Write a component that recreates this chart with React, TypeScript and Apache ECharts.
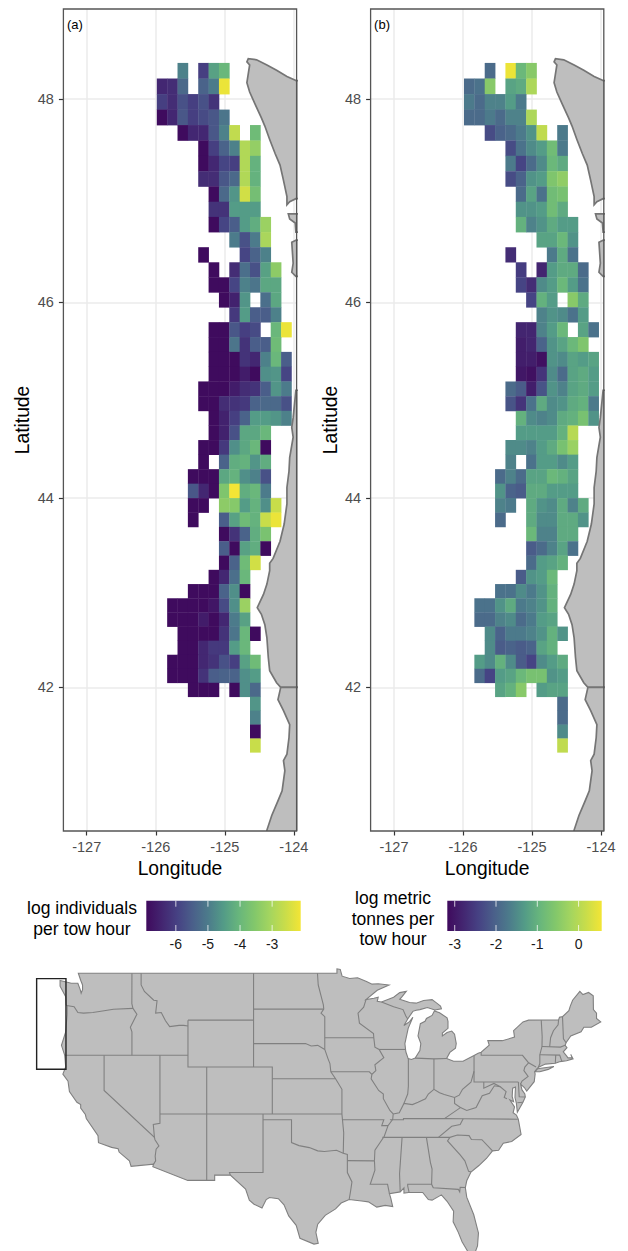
import React, { useEffect, useRef } from "react";
import * as echarts from "echarts";

const _ = null;
const viridis = ["#3f0a5d","#432570","#464183","#4a5f8a","#4c7b8b","#539b87","#68b67c","#82c76b","#a4d55f","#c9dd4a","#f3e535"];

const lonTicks = [-127, -126, -125, -124];
const latTicks = [42, 44, 46, 48];
const cellDeg = 0.15;
const firstCellLon = -125.985;
const firstCellLat = 48.35;

const valuesA: (number | null)[][] = [
[_,_,-4.9,_,-6.0,-4.4,-4.0],
[-6.4,-6.3,-5.3,_,-5.4,-5.0,-2.2],
[-6.0,-6.3,-5.7,-6.0,-5.7,-6.2],
[-6.9,-6.4,-5.6,-6.0,-5.8,-5.6,-5.1],
[_,_,-6.9,-6.4,-6.4,-5.6,-4.9,-2.7,_,-3.9],
[_,_,_,_,-6.9,-6.0,-5.4,-4.9,-2.9,-3.3],
[_,_,_,_,-6.9,-6.4,-5.9,-6.0,-2.9,-4.1],
[_,_,_,_,-6.3,-6.3,-5.6,-5.3,-2.9,-4.1],
[_,_,_,_,_,-6.9,-5.3,-4.6,-2.5,-3.8],
[_,_,_,_,_,-6.2,-6.2,-4.5,-4.5,-4.5],
[_,_,_,_,_,-6.9,-5.9,-5.5,-4.5,-4.2,-3.2],
[_,_,_,_,_,_,_,-5.0,-5.7,-5.0,-3.0],
[_,_,_,_,-6.9,_,_,_,-5.9,-5.4,-4.9],
[_,_,_,_,_,-6.9,_,-6.3,-5.2,-5.7,-4.4,-3.4],
[_,_,_,_,_,-6.9,-6.9,-5.9,-4.9,-5.1,-4.3,-4.3],
[_,_,_,_,_,_,-6.9,-6.5,-4.6,_,-5.2,-4.3],
[_,_,_,_,_,_,_,-6.1,-4.5,-5.5,-5.5,-4.9],
[_,_,_,_,_,-6.9,-6.9,-5.6,-6.0,-5.8,_,-4.0,-2.2],
[_,_,_,_,_,-6.9,-6.9,-5.1,-6.2,-5.5,-5.5,-3.9],
[_,_,_,_,_,-6.9,-6.9,-6.9,-6.2,-6.4,-4.9,-4.0,-5.5],
[_,_,_,_,_,-6.9,-6.9,-6.9,-6.6,-6.9,-4.7,-4.6,-5.9],
[_,_,_,_,-6.9,-6.9,-6.9,-6.6,-6.3,-6.2,-5.5,-4.6,-5.0],
[_,_,_,_,-6.9,-6.9,-6.3,-6.2,-6.1,-5.4,-5.3,-5.3,-5.7],
[_,_,_,_,_,-6.9,-6.5,-6.0,-5.4,-4.5,-4.5,-4.6,-4.9],
[_,_,_,_,_,-6.9,-6.5,-5.7,-4.3,-4.3,-4.0],
[_,_,_,_,-6.9,-6.9,-6.1,-4.7,-4.3,-4.0,-6.9],
[_,_,_,_,-6.9,_,-5.4,-4.2,-4.1,-4.6,-4.2],
[_,_,_,-6.9,-6.9,-6.9,-4.3,-4.1,-4.7,-4.9,-5.7],
[_,_,_,-5.6,-6.4,-6.9,-3.6,-2.1,-4.2,-4.0,-5.0],
[_,_,_,-6.9,-6.9,_,-3.4,-3.5,-4.5,-4.1,-4.7,-2.6],
[_,_,_,-6.9,_,_,-5.5,-4.4,-3.9,-4.1,-2.6,-2.2],
[_,_,_,_,_,_,-6.9,-6.2,-5.4,-4.2,-3.7],
[_,_,_,_,_,_,-5.5,-6.9,-4.4,-4.2,-6.9],
[_,_,_,_,_,_,-6.9,-5.4,-3.9,-2.5],
[_,_,_,_,_,-6.9,-6.4,-5.2,-4.0],
[_,_,_,-6.9,-6.9,-6.9,-5.4,-4.7,-6.9],
[_,-6.9,-6.9,-6.9,-6.9,-6.7,-5.8,-4.7,-3.2],
[_,-6.9,-6.9,-6.9,-6.6,-6.9,-6.4,-5.0,-4.4],
[_,_,-6.9,-6.9,-6.9,-6.9,-6.2,-5.1,-4.0,-6.9],
[_,_,-6.9,-6.9,-6.4,-6.1,-6.1,-4.5,-4.0],
[_,-6.9,-6.9,-6.9,-6.4,-6.2,-5.7,-6.0,-4.4,-3.9],
[_,-6.9,-6.9,-6.9,-6.2,-5.5,-5.4,-5.4,-4.7,-4.5],
[_,_,_,-6.9,-6.9,-6.9,_,-6.9,-4.7,-5.3],
[_,_,_,_,_,_,_,_,_,-4.6],
[_,_,_,_,_,_,_,_,_,-4.9],
[_,_,_,_,_,_,_,_,_,-6.9],
[_,_,_,_,_,_,_,_,_,-2.6],
];

const valuesB: (number | null)[][] = [
[_,_,-1.9,_,0.5,-0.9,-0.5],
[-1.9,-1.8,-0.5,_,-1.2,-1.1,-0.1],
[-1.7,-1.9,-1.6,-1.6,-1.3,-1.7],
[-1.9,-1.9,-1.7,-1.9,-1.6,-1.6,-0.1],
[_,_,-2.3,-2.0,-1.9,-1.7,-1.4,0.1,_,-1.7],
[_,_,_,_,-2.3,-1.8,-1.5,-1.3,-0.8,-1.7],
[_,_,_,_,-1.7,-2.4,-1.9,-1.5,-0.9,-1.1],
[_,_,_,_,-2.3,-2.0,-1.4,-1.3,-0.6,-0.4],
[_,_,_,_,_,-1.9,-1.2,-1.8,-0.8,-0.7],
[_,_,_,_,_,-1.4,-1.4,-1.3,-0.8,-1.1],
[_,_,_,_,_,-1.0,-1.6,-1.4,-1.1,-1.3,-1.3],
[_,_,_,_,_,_,_,-1.2,-1.2,-0.9,-1.4],
[_,_,_,_,-2.7,_,_,_,-1.7,-1.1,-1.8],
[_,_,_,_,_,-2.5,_,-2.8,-1.3,-1.1,-1.1,-1.9],
[_,_,_,_,_,-2.4,-2.7,-1.5,-1.3,-0.9,-1.3,-1.8],
[_,_,_,_,_,_,-2.4,-1.0,-1.3,_,-0.5,-1.1],
[_,_,_,_,_,_,_,-1.6,-1.4,-1.5,-1.8,-1.3],
[_,_,_,_,_,-2.8,-2.8,-1.6,-1.3,-0.9,_,-1.2,-1.8],
[_,_,_,_,_,-2.9,-2.8,-2.0,-1.4,-1.2,-0.9,-0.6],
[_,_,_,_,_,-2.9,-2.9,-3.1,-1.4,-1.5,-1.2,-1.3,-1.2],
[_,_,_,_,_,-3.0,-3.1,-2.6,-1.5,-1.9,-1.2,-1.1,-1.3],
[_,_,_,_,-1.9,-2.1,-2.9,-2.2,-1.4,-1.6,-1.2,-1.1,-1.3],
[_,_,_,_,-2.2,-2.6,-1.8,-1.1,-1.5,-1.4,-1.1,-1.0,-1.7],
[_,_,_,_,_,-1.0,-1.5,-1.6,-1.5,-1.1,-1.0,-0.7,-1.4],
[_,_,_,_,_,-1.3,-1.3,-1.3,-1.3,-1.0,0.0],
[_,_,_,_,-1.5,-1.5,-1.6,-1.3,-1.1,-0.7,-0.3],
[_,_,_,_,-1.6,_,-1.8,-1.3,-1.3,-1.5,-1.3],
[_,_,_,-1.9,-1.6,-1.9,-1.2,-1.2,-0.9,-1.0,-1.2],
[_,_,_,-1.4,-2.0,-2.1,-1.1,-1.1,-1.3,-1.3,-1.3],
[_,_,_,-1.6,-1.7,_,-1.1,-1.4,-1.5,-1.1,-1.6,-1.1],
[_,_,_,-1.9,_,_,-1.1,-1.5,-1.5,-1.1,-1.1,-1.4],
[_,_,_,_,_,_,-0.9,-1.6,-1.6,-1.1,-1.1],
[_,_,_,_,_,_,-2.1,-1.9,-1.6,-1.2,-1.8],
[_,_,_,_,_,_,-1.9,-1.3,-1.2,-1.0],
[_,_,_,_,_,-2.1,-1.4,-1.3,-0.9],
[_,_,_,-1.8,-1.8,-1.5,-1.7,-1.4,-1.0],
[_,-1.8,-1.8,-1.4,-1.1,-1.7,-1.6,-1.4,-1.0],
[_,-1.9,-1.9,-1.6,-1.5,-1.9,-1.7,-1.3,-1.2],
[_,_,-1.5,-2.0,-1.7,-1.7,-1.6,-1.4,-1.0,-1.4],
[_,_,-1.5,-2.1,-2.0,-2.1,-2.0,-1.2,-1.0],
[_,-1.3,-1.5,-1.0,-1.5,-2.1,-2.4,-1.5,-1.3,-1.1],
[_,-1.9,-2.4,-1.3,-1.2,-0.9,-0.7,-0.7,-1.4,-1.3],
[_,_,_,-1.2,-1.0,-0.5,_,-1.3,-1.2,-1.2],
[_,_,_,_,_,_,_,_,_,-1.9],
[_,_,_,_,_,_,_,_,_,-1.9],
[_,_,_,_,_,_,_,_,_,-1.5],
[_,_,_,_,_,_,_,_,_,0.1],
];

const scaleA = { min: -6.92, max: -2.11, ticks: [-6, -5, -4, -3] };
const scaleB = { min: -3.18, max: 0.56, ticks: [-3, -2, -1, 0] };

const coastWa1 = [[-123.97,48.18],[-124.10,48.22],[-124.25,48.28],[-124.39,48.33],[-124.54,48.38],[-124.66,48.39],[-124.68,48.36],[-124.64,48.33],[-124.68,48.16],[-124.64,48.07],[-124.56,47.95],[-124.47,47.82],[-124.42,47.74],[-124.35,47.61],[-124.27,47.47],[-124.20,47.36],[-124.15,47.21],[-124.10,47.05],[-124.10,46.97],[-124.06,47.00],[-123.97,47.03],[-123.5,47.03],[-123.5,48.18]];
const coastWa2 = [[-123.97,46.88],[-124.08,46.88],[-124.06,46.83],[-123.98,46.79],[-123.97,46.70],[-123.5,46.70],[-123.5,46.88]];
const coastWa3 = [[-123.97,46.62],[-124.03,46.60],[-124.01,46.39],[-124.03,46.30],[-123.97,46.26],[-123.5,46.26],[-123.5,46.62]];
const coastOr = [[-123.97,45.11],[-124.01,44.83],[-124.03,44.73],[-124.01,44.63],[-124.06,44.42],[-124.07,44.28],[-124.10,44.11],[-124.10,43.94],[-124.14,43.73],[-124.20,43.55],[-124.30,43.37],[-124.35,43.32],[-124.35,43.24],[-124.39,43.10],[-124.44,42.99],[-124.53,42.85],[-124.47,42.78],[-124.42,42.67],[-124.39,42.53],[-124.37,42.32],[-124.35,42.18],[-124.25,42.05],[-124.19,42],[-123.5,42],[-123.5,45.11]];
const coastCa = [[-124.19,42],[-124.23,41.87],[-124.15,41.75],[-124.06,41.60],[-124.07,41.46],[-124.10,41.28],[-124.15,41.21],[-124.13,41.10],[-124.17,40.88],[-124.23,40.77],[-124.32,40.61],[-124.39,40.45],[-124.41,40.3],[-123.5,40.3],[-123.5,42]];
const coasts = [coastWa1, coastWa2, coastWa3, coastOr, coastCa];

const usOutline = [[-124.7,48.38],[-123.5,48.15],[-122.8,48.15],[-122.55,47.6],[-122.45,47.3],[-122.3,47.6],[-122.3,48.0],[-122.5,48.4],[-122.75,49],[-95.15,49],[-95.15,49.38],[-94.8,49.33],[-94.6,48.75],[-93.8,48.55],[-92.95,48.62],[-92.0,48.3],[-91.4,48.07],[-90.75,48.1],[-89.6,48.0],[-90.85,47.55],[-92.05,46.75],[-91.2,46.87],[-90.75,46.95],[-90.85,46.6],[-90.4,46.55],[-89.1,46.95],[-88.45,47.35],[-87.75,47.45],[-88.2,47.0],[-88.45,46.78],[-87.4,46.5],[-86.7,46.45],[-85.9,46.68],[-85.0,46.75],[-84.5,46.45],[-84.1,46.2],[-84.0,45.97],[-84.7,45.87],[-85.5,46.08],[-86.3,45.9],[-86.7,45.85],[-87.05,45.75],[-87.6,45.1],[-88.0,44.55],[-87.4,44.87],[-87.05,45.25],[-87.55,44.3],[-87.9,43.0],[-87.8,42.3],[-87.55,41.72],[-87.2,41.65],[-86.8,41.77],[-86.3,42.4],[-86.2,43.0],[-86.5,43.65],[-86.25,44.7],[-85.75,44.9],[-85.6,45.15],[-85.0,45.4],[-84.75,45.78],[-84.2,45.63],[-83.4,45.2],[-83.3,44.9],[-83.3,44.3],[-83.9,43.9],[-83.9,43.65],[-83.4,43.95],[-82.9,44.07],[-82.6,43.8],[-82.42,43.0],[-82.5,42.6],[-83.1,42.25],[-83.45,41.73],[-82.7,41.5],[-81.7,41.5],[-80.52,41.98],[-80.08,42.17],[-79.76,42.27],[-78.9,42.87],[-79.05,43.26],[-77.5,43.25],[-76.2,43.55],[-76.3,44.1],[-75.3,44.85],[-74.7,45.0],[-71.5,45.01],[-71.4,45.25],[-71.08,45.3],[-70.4,45.8],[-70.25,46.2],[-70.0,46.7],[-69.23,47.46],[-68.9,47.18],[-68.3,47.36],[-67.8,47.07],[-67.78,45.9],[-67.45,45.6],[-67.45,45.15],[-67.0,44.85],[-68.0,44.4],[-68.8,44.4],[-69.1,44.0],[-70.2,43.65],[-70.7,43.07],[-70.8,42.85],[-70.6,42.65],[-71.0,42.3],[-70.65,41.95],[-70.5,41.78],[-70.05,41.8],[-70.2,42.08],[-69.95,41.7],[-70.65,41.53],[-71.15,41.48],[-71.4,41.45],[-71.85,41.32],[-72.9,41.25],[-73.65,40.98],[-73.9,40.75],[-74.05,40.6],[-74.0,40.4],[-74.1,39.75],[-74.9,38.95],[-75.15,39.25],[-75.55,39.55],[-75.4,39.05],[-75.1,38.7],[-75.05,38.45],[-75.3,38.0],[-75.9,37.15],[-76.0,37.9],[-76.15,38.4],[-76.1,39.3],[-76.4,39.2],[-76.45,38.5],[-76.3,38.05],[-76.7,38.2],[-76.2,37.6],[-76.35,37.1],[-76.0,36.9],[-75.8,36.55],[-75.5,35.25],[-76.5,34.65],[-77.4,34.5],[-77.9,33.9],[-78.55,33.85],[-79.2,33.2],[-80.0,32.6],[-80.85,32.05],[-81.3,31.3],[-81.45,30.72],[-81.3,29.9],[-80.55,28.4],[-80.05,26.85],[-80.15,25.75],[-80.4,25.2],[-81.1,25.15],[-81.8,26.1],[-82.2,26.9],[-82.75,27.8],[-82.7,28.7],[-83.4,29.55],[-84.0,30.1],[-85.0,29.65],[-85.4,29.7],[-86.0,30.3],[-87.5,30.3],[-88.0,30.25],[-88.0,30.7],[-88.4,30.35],[-89.55,30.2],[-89.4,29.8],[-89.2,29.1],[-90.0,29.2],[-90.9,29.05],[-91.8,29.5],[-92.3,29.55],[-93.85,29.7],[-94.7,29.4],[-95.3,28.9],[-96.4,28.35],[-97.2,27.6],[-97.4,26.9],[-97.15,25.96],[-97.6,25.9],[-99.1,26.4],[-99.5,27.5],[-100.3,28.3],[-100.8,29.25],[-101.4,29.77],[-102.35,29.87],[-102.7,29.7],[-103.15,28.98],[-104.0,29.3],[-104.5,29.65],[-104.9,30.6],[-106.53,31.78],[-108.2,31.78],[-108.2,31.33],[-111.07,31.33],[-114.8,32.5],[-114.72,32.72],[-117.12,32.53],[-117.3,33.0],[-118.4,33.75],[-118.5,34.03],[-119.2,34.15],[-120.6,34.55],[-120.65,35.15],[-121.9,36.6],[-122.0,36.95],[-122.5,37.5],[-122.5,37.8],[-122.9,38.0],[-123.7,38.9],[-123.85,39.8],[-124.4,40.4],[-124.1,41.0],[-124.2,42.0],[-124.55,42.85],[-124.1,44.0],[-123.95,45.5],[-123.95,46.2],[-124.05,46.3],[-124.1,47.0],[-124.7,47.9]];
const longIsland = [[-74.0,40.6],[-73.75,40.85],[-72.6,40.98],[-72.0,41.05],[-72.6,40.8],[-73.5,40.6]];

const stateBorders = [
[[-124,46.25],[-123.2,46.15],[-122.8,45.65],[-122.2,45.6],[-121.2,45.65],[-120.0,45.8],[-119.0,45.93],[-116.92,46.0]],
[[-117.03,49],[-117.04,46.4],[-116.92,46.0],[-116.5,45.5],[-116.85,44.95],[-117.2,44.4],[-117.03,44.0],[-117.03,42]],
[[-124.2,42],[-111.05,42]],
[[-120,42],[-120,39],[-114.63,35.0],[-114.57,34.8],[-114.15,34.27],[-114.45,34.0],[-114.55,33.4],[-114.5,33.0],[-114.72,32.72]],
[[-114.04,42],[-114.04,36.2],[-114.75,36.1],[-114.63,35]],
[[-114.04,37],[-94.62,37]],
[[-109.05,41],[-109.05,31.33]],
[[-111.05,45],[-111.05,41],[-102.05,41],[-102.05,37]],
[[-111.05,45],[-104.05,45]],
[[-116.05,49],[-116.05,48.0],[-115.7,47.45],[-114.7,46.7],[-114.35,46.65],[-114.5,45.6],[-113.9,45.65],[-113.45,44.95],[-113.0,44.45],[-112.0,44.55],[-111.5,44.55],[-111.05,44.5]],
[[-104.05,49],[-104.05,41]],
[[-104.05,45.94],[-96.56,45.94]],
[[-104.05,43],[-98.5,43],[-97.9,42.8],[-97.2,42.85],[-96.45,42.5]],
[[-102.05,40],[-95.3,40]],
[[-103.04,37],[-103.04,32],[-106.62,32],[-106.53,31.78]],
[[-103.04,36.5],[-100,36.5],[-100,34.56],[-99.2,34.3],[-98.1,34.13],[-97.2,33.85],[-96.5,33.8],[-95.2,33.9],[-94.48,33.64],[-94.04,33.55],[-94.04,32],[-93.55,31.2],[-93.7,30.4],[-93.85,29.7]],
[[-94.62,37],[-94.43,35.4],[-94.48,33.64]],
[[-94.04,33.02],[-91.15,33.0],[-91.1,32.2],[-91.6,31.0],[-89.75,31.0],[-89.55,30.2]],
[[-94.62,37],[-94.62,39.1],[-95.3,40.0],[-95.8,40.6],[-95.9,41.3],[-96.1,41.7],[-96.45,42.5],[-96.45,45.3],[-96.85,45.6],[-96.56,45.94],[-96.6,46.3],[-97.15,48.0],[-97.23,49]],
[[-96.45,43.5],[-91.22,43.5]],
[[-95.8,40.6],[-91.7,40.6],[-91.42,40.38]],
[[-92.05,46.75],[-92.3,46.1],[-92.9,45.6],[-92.75,44.75],[-91.25,43.85],[-91.22,43.5],[-91.1,42.7],[-90.65,42.5],[-90.15,41.8],[-91.1,41.2],[-91.0,40.7],[-91.42,40.38],[-91.5,40.0],[-90.7,39.0],[-90.2,38.7],[-90.2,38.3],[-89.5,37.3],[-89.15,37.0],[-89.2,36.55],[-89.7,36.0],[-90.1,35.1],[-90.6,34.5],[-91.1,33.9],[-91.15,33.0]],
[[-94.62,36.5],[-90.15,36.5],[-90.37,36.0],[-89.7,36.0]],
[[-90.65,42.5],[-87.8,42.5]],
[[-90.4,46.55],[-89.1,46.15],[-88.1,45.9],[-87.8,45.35],[-87.6,45.1]],
[[-87.53,41.72],[-87.53,39.35],[-87.6,38.7],[-88.0,37.9]],
[[-89.15,37.0],[-88.5,37.1],[-88.0,37.9],[-87.1,37.8],[-86.5,38.0],[-85.7,38.3],[-85.4,38.7],[-84.8,39.1],[-84.2,38.8],[-83.7,38.65],[-82.6,38.4],[-82.1,38.6],[-81.75,39.1],[-80.85,39.7],[-80.52,40.64]],
[[-84.8,39.1],[-84.8,41.7]],
[[-86.8,41.76],[-84.8,41.7],[-83.45,41.73]],
[[-80.52,41.98],[-80.52,39.72],[-75.79,39.72]],
[[-79.76,42.27],[-79.76,42],[-75.35,42],[-74.7,41.36],[-75.1,41.0],[-75.2,40.7],[-74.75,40.2],[-75.4,39.8],[-75.55,39.55]],
[[-74.7,41.36],[-73.9,41.0]],
[[-73.65,40.98],[-73.5,41.3],[-73.5,42.05],[-73.27,42.75],[-73.25,43.6],[-73.35,45.0]],
[[-73.5,42.05],[-71.38,42.02],[-71.15,41.48]],
[[-71.8,42.02],[-71.85,41.32]],
[[-73.27,42.75],[-71.3,42.7],[-70.8,42.85]],
[[-72.45,42.73],[-72.35,43.5],[-72.05,44.1],[-71.55,44.6],[-71.5,45.01]],
[[-70.7,43.07],[-70.98,43.4],[-71.08,45.3]],
[[-75.79,39.72],[-75.7,38.46],[-75.05,38.45]],
[[-75.9,37.95],[-75.3,38.0]],
[[-79.48,39.72],[-79.48,39.2],[-78.4,39.6],[-77.72,39.32],[-77.1,38.9],[-77.3,38.4],[-77,38.3]],
[[-77.72,39.32],[-78.35,39.4],[-78.87,38.77],[-79.65,38.55],[-80.3,37.55],[-81.3,37.3],[-81.97,37.54]],
[[-82.6,38.4],[-82.6,37.9],[-81.97,37.54],[-83.68,36.6]],
[[-75.85,36.55],[-81.68,36.59],[-83.68,36.6],[-88.05,36.6],[-88.05,36.5],[-89.5,36.5]],
[[-81.68,36.59],[-82.0,36.1],[-82.9,35.95],[-84.32,35.0]],
[[-90.3,35.0],[-83.1,35.0],[-82.3,35.2],[-81.05,35.15],[-80.8,34.82],[-79.68,34.8],[-78.55,33.85]],
[[-83.1,35.0],[-83.35,34.7],[-82.0,33.5],[-81.5,33.0],[-81.1,32.1],[-80.85,32.05]],
[[-85.6,34.98],[-85.18,32.87],[-85.0,32.3],[-85.05,31.0],[-84.87,30.7],[-82.2,30.57],[-82.05,30.35],[-82.0,30.75],[-81.45,30.72]],
[[-85.0,31.0],[-87.6,31.0],[-87.6,30.85],[-87.45,30.3]],
[[-88.2,35.0],[-88.47,31.9],[-88.4,30.35]],
];
const insetBox = [[-127.2,48.54],[-124.07,48.54],[-124.07,40.81],[-127.2,40.81]];

const LAND = "#bebebe";
const FONT = "'Liberation Sans', Arial, sans-serif";

const merc = (lat: number) => Math.asinh(Math.tan((lat * Math.PI) / 180));
const unmerc = (m: number) => (Math.atan(Math.sinh(m)) * 180) / Math.PI;

function viridisAt(t: number) {
  const p = Math.max(0, Math.min(1, t)) * (viridis.length - 1);
  const i = Math.min(viridis.length - 2, Math.floor(p));
  const f = p - i;
  const a = viridis[i], b = viridis[i + 1];
  const ch = (k: number) => {
    const x = parseInt(a.slice(k, k + 2), 16), y = parseInt(b.slice(k, k + 2), 16);
    return Math.round(x + (y - x) * f);
  };
  return `rgb(${ch(1)},${ch(3)},${ch(5)})`;
}

function cells(values: (number | null)[][]) {
  const out: number[][] = [];
  values.forEach((row, r) =>
    row.forEach((v, c) => {
      if (v !== null) out.push([firstCellLon + cellDeg * (c + 0.5), firstCellLat - cellDeg * (r + 0.5), v]);
    })
  );
  return out;
}

function cellSeries(values: (number | null)[][], scale: { min: number; max: number }, idx: number) {
  return {
    type: "custom", xAxisIndex: idx, yAxisIndex: idx, clip: true, silent: true, z: 3,
    data: cells(values).map((d) => [d[0], merc(d[1]), d[2], d[1]]),
    renderItem: (_p: any, api: any) => {
      const lon = api.value(0), lat = api.value(3), v = api.value(2);
      const a = api.coord([lon - cellDeg / 2, merc(lat + cellDeg / 2)]);
      const b = api.coord([lon + cellDeg / 2, merc(lat - cellDeg / 2)]);
      return {
        type: "rect",
        shape: { x: a[0], y: a[1], width: b[0] - a[0] + 0.35, height: b[1] - a[1] + 0.35 },
        style: { fill: viridisAt((v - scale.min) / (scale.max - scale.min)) },
      };
    },
  };
}

function polySeries(polys: number[][][], idx: number, project: (p: number[]) => number[], style: any, kind: string, z: number) {
  return {
    type: "custom", xAxisIndex: idx, yAxisIndex: idx, clip: true, silent: true, z,
    data: polys.map((_q, i) => [i]),
    encode: { x: -1, y: -1 },
    renderItem: (p: any, api: any) => ({
      type: kind,
      shape: { points: polys[p.dataIndex].map((q) => api.coord(project(q))) },
      style,
    }),
  };
}

const panels = [
  { left: 63.4, label: "(a)" },
  { left: 370.6, label: "(b)" },
];
const PANEL_W = 233.2, PANEL_TOP = 9, PANEL_H = 822;

function legend(x0: number, scale: { min: number; max: number; ticks: number[] }, titleLines: string[], titleX: number, titleY: number) {
  const w = 154.4, y0 = 900.7, h = 30.3;
  const stops = viridis.map((color, i) => ({ offset: i / (viridis.length - 1), color }));
  const els: any[] = [
    { type: "rect", shape: { x: x0, y: y0, width: w, height: h }, style: { fill: new echarts.graphic.LinearGradient(0, 0, 1, 0, stops) } },
  ];
  scale.ticks.forEach((t) => {
    const x = x0 + ((t - scale.min) / (scale.max - scale.min)) * w;
    els.push({ type: "line", shape: { x1: x, y1: y0, x2: x, y2: y0 + 6 }, style: { stroke: "#fff", lineWidth: 1, opacity: 0.75 } });
    els.push({ type: "line", shape: { x1: x, y1: y0 + h - 6, x2: x, y2: y0 + h }, style: { stroke: "#fff", lineWidth: 1, opacity: 0.75 } });
    els.push({ type: "text", style: { text: String(t), x, y: 944, fill: "#1a1a1a", font: `14px ${FONT}`, textAlign: "center", textVerticalAlign: "middle" } });
  });
  titleLines.forEach((s, i) => {
    els.push({ type: "text", style: { text: s, x: titleX, y: titleY + i * 20.6, fill: "#000", font: `17.5px ${FONT}`, textAlign: "center", textVerticalAlign: "middle" } });
  });
  return els;
}

export default function App() {
  const ref = useRef<HTMLDivElement>(null);
  useEffect(() => {
    document.body.style.margin = "0";
    const chart = echarts.init(ref.current!, undefined, { renderer: "svg" });
    const lonMin = -127.338, lonMax = -123.96;
    const latMin = merc(40.44), latMax = merc(48.865);
    const project = (q: number[]) => [q[0], merc(q[1])];
    const grids: any[] = panels.map((p) => ({ left: p.left, top: PANEL_TOP, width: PANEL_W, height: PANEL_H, show: false }));
    grids.push({ left: 0, top: 960, width: 628, height: 291, show: false });
    const xAxes: any[] = panels.map((_p, i) => ({
      type: "value", gridIndex: i, min: lonMin, max: lonMax,
      name: "Longitude", nameLocation: "middle", nameGap: 27,
      nameTextStyle: { fontSize: 19.3, color: "#000", fontFamily: FONT },
      axisLine: { show: false },
      axisTick: { show: true, length: 4.5, lineStyle: { color: "#333", width: 1.2 }, customValues: lonTicks },
      axisLabel: { color: "#4d4d4d", fontSize: 14.5, fontFamily: FONT, margin: 8, customValues: lonTicks, formatter: (v: number) => String(v) },
      splitLine: { show: true, lineStyle: { color: "#ebebeb", width: 1.5 } },
    }));
    const yAxes: any[] = panels.map((_p, i) => ({
      type: "value", gridIndex: i, min: latMin, max: latMax,
      name: "Latitude", nameLocation: "middle", nameGap: 31,
      nameTextStyle: { fontSize: 19.3, color: "#000", fontFamily: FONT },
      axisLine: { show: false },
      axisTick: { show: true, length: 4.5, lineStyle: { color: "#333", width: 1.2 }, customValues: latTicks.map(merc) },
      axisLabel: { color: "#4d4d4d", fontSize: 14.5, fontFamily: FONT, margin: 9.5, customValues: latTicks.map(merc), formatter: (v: number) => String(Math.round(unmerc(v))) },
      splitLine: { show: true, lineStyle: { color: "#ebebeb", width: 1.5 } },
    }));
    xAxes.push({ type: "value", gridIndex: 2, min: -131.11, max: -64.09, show: false });
    yAxes.push({ type: "value", gridIndex: 2, min: 25.31, max: 50.13, show: false });

    const landStyle = { fill: LAND, stroke: "#757575", lineWidth: 1.7 };
    const usFill = { fill: LAND, stroke: "#808080", lineWidth: 1.1 };
    const usLine = { fill: "none", stroke: "#808080", lineWidth: 1.1 };
    const boxStyle = { fill: "none", stroke: "#222", lineWidth: 1.4 };
    const same = (q: number[]) => q;

    const graphics: any[] = [];
    panels.forEach((p) => {
      graphics.push({ type: "rect", z: 100, shape: { x: p.left, y: PANEL_TOP, width: PANEL_W, height: PANEL_H }, style: { fill: "none", stroke: "#555", lineWidth: 1.3 } });
      graphics.push({ type: "text", z: 100, style: { text: p.label, x: p.left + 3.5, y: 24, fill: "#000", font: `13px ${FONT}`, textVerticalAlign: "middle" } });
    });
    graphics.push(...legend(146.3, scaleA, ["log individuals", "per tow hour"], 82, 908));
    graphics.push(...legend(447.3, scaleB, ["log metric", "tonnes per", "tow hour"], 393, 898));

    chart.setOption({
      animation: false,
      grid: grids, xAxis: xAxes, yAxis: yAxes,
      series: [
        cellSeries(valuesA, scaleA, 0),
        cellSeries(valuesB, scaleB, 1),
        polySeries(coasts, 0, project, landStyle, "polygon", 4),
        polySeries(coasts, 1, project, landStyle, "polygon", 4),
        polySeries([usOutline, longIsland], 2, same, usFill, "polygon", 3),
        polySeries(stateBorders, 2, same, usLine, "polyline", 4),
        polySeries([insetBox], 2, same, boxStyle, "polygon", 5),
      ],
      graphic: graphics,
    });
    return () => chart.dispose();
  }, []);
  return <div ref={ref} style={{ width: 628, height: 1251 }} />;
}
